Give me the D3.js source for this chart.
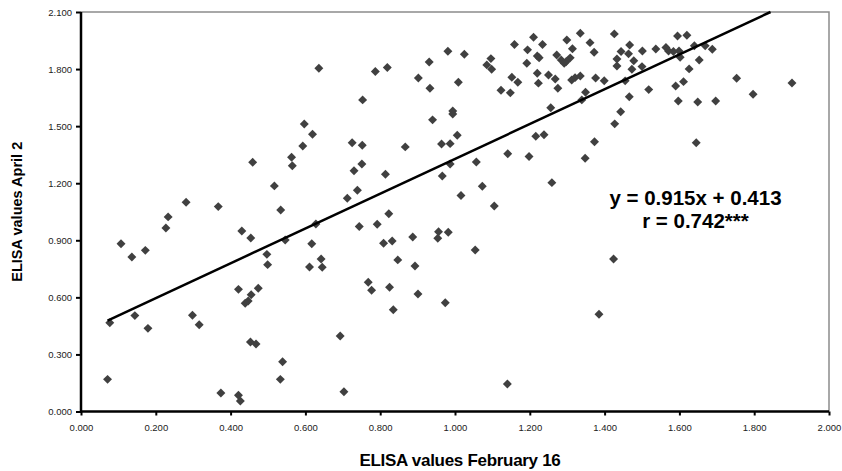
<!DOCTYPE html>
<html>
<head>
<meta charset="utf-8">
<script src="https://cdn.jsdelivr.net/npm/d3@7"></script>
<style>
  body { margin: 0; background: #fff; }
  text { font-family: "Liberation Sans", Arial, sans-serif; }
</style>
</head>
<body>
<div id="chart"></div>
<script>
// ELISA readings, one entry per sample
const elisaFeb16 = [
  0.071, 0.077, 0.144, 0.179, 0.298, 0.316, 0.374, 0.421, 0.426, 0.453,
  0.468, 0.539, 0.533, 0.439, 0.447, 0.455, 0.421, 0.474, 0.107, 0.136,
  0.172, 0.227, 0.233, 0.281, 0.367, 0.430, 0.454, 0.459, 0.517, 0.534,
  0.563, 0.565, 0.546, 0.497, 0.499, 0.617, 0.628, 0.611, 0.642, 0.645,
  0.636, 0.597, 0.619, 0.593, 1.335, 1.210, 1.299, 1.361, 1.159, 1.234,
  1.194, 1.314, 1.372, 0.981, 1.025, 0.931, 1.220, 1.225, 1.272, 1.284,
  1.297, 1.308, 1.292, 1.096, 1.085, 1.098, 1.192, 1.220, 1.250, 1.268,
  1.223, 1.275, 1.312, 1.321, 1.335, 1.376, 1.399, 1.349, 1.339, 1.256,
  1.373, 1.152, 1.168, 1.123, 1.148, 0.787, 0.819, 0.902, 0.933, 1.009,
  0.753, 0.940, 0.994, 0.994, 1.006, 0.964, 0.987, 0.725, 0.752, 0.867,
  1.216, 1.238, 1.141, 1.198, 1.348, 1.057, 1.426, 1.595, 1.620, 1.467,
  1.444, 1.464, 1.501, 1.537, 1.564, 1.571, 1.584, 1.599, 1.602, 1.640,
  1.669, 1.688, 1.433, 1.433, 1.478, 1.473, 1.500, 1.653, 1.626, 1.455,
  1.611, 1.590, 1.753, 1.901, 1.518, 1.466, 1.797, 1.597, 1.649, 1.697,
  1.443, 1.427, 1.645, 0.751, 0.730, 0.814, 0.987, 0.966, 1.073, 1.259,
  0.739, 0.712, 1.016, 1.105, 0.823, 0.744, 0.792, 0.809, 0.832, 0.887,
  0.956, 0.954, 0.982, 1.054, 0.847, 0.893, 0.768, 0.777, 0.825, 0.901,
  0.974, 0.835, 0.693, 0.703, 1.140, 1.385, 1.424
];
const elisaApr2 = [
  0.169, 0.467, 0.504, 0.437, 0.506, 0.456, 0.097, 0.085, 0.055, 0.365,
  0.355, 0.262, 0.169, 0.569, 0.581, 0.614, 0.642, 0.648, 0.882, 0.812,
  0.847, 0.965, 1.023, 1.100, 1.077, 0.949, 0.912, 1.310, 1.186, 1.059,
  1.336, 1.292, 0.902, 0.826, 0.772, 0.882, 0.986, 0.760, 0.802, 0.758,
  1.804, 1.511, 1.457, 1.396, 1.988, 1.967, 1.953, 1.939, 1.929, 1.929,
  1.901, 1.907, 1.888, 1.894, 1.878, 1.837, 1.869, 1.860, 1.874, 1.848,
  1.838, 1.859, 1.831, 1.855, 1.822, 1.799, 1.831, 1.778, 1.769, 1.748,
  1.726, 1.699, 1.743, 1.755, 1.764, 1.753, 1.739, 1.678, 1.638, 1.597,
  1.418, 1.757, 1.731, 1.689, 1.675, 1.787, 1.808, 1.753, 1.699, 1.731,
  1.638, 1.533, 1.580, 1.564, 1.452, 1.406, 1.408, 1.413, 1.400, 1.391,
  1.447, 1.455, 1.355, 1.340, 1.331, 1.312, 1.985, 1.974, 1.978, 1.927,
  1.892, 1.880, 1.895, 1.906, 1.913, 1.895, 1.892, 1.895, 1.862, 1.923,
  1.922, 1.904, 1.853, 1.816, 1.844, 1.799, 1.813, 1.848, 1.801, 1.738,
  1.734, 1.711, 1.752, 1.727, 1.692, 1.655, 1.668, 1.632, 1.627, 1.632,
  1.576, 1.512, 1.413, 1.301, 1.266, 1.247, 1.301, 1.238, 1.184, 1.203,
  1.163, 1.121, 1.135, 1.080, 1.040, 0.972, 0.984, 0.884, 0.896, 0.917,
  0.945, 0.911, 0.942, 0.849, 0.797, 0.765, 0.679, 0.637, 0.653, 0.618,
  0.572, 0.535, 0.397, 0.104, 0.145, 0.511, 0.802
];

// linear fit shown on the chart
const fitSlope = 0.915;
const fitIntercept = 0.413;
const fitLabel = ["y = 0.915x + 0.413", "r = 0.742***"];

const xTicks = [0, 0.2, 0.4, 0.6, 0.8, 1.0, 1.2, 1.4, 1.6, 1.8, 2.0];
const yTicks = [0, 0.3, 0.6, 0.9, 1.2, 1.5, 1.8, 2.1];

const margin = { top: 12, right: 13, bottom: 59.5, left: 81 };
const width = 842;
const height = 471;
const plotW = width - margin.left - margin.right;
const plotH = height - margin.top - margin.bottom;

const svg = d3.select('#chart')
  .append('svg')
  .attr('width', width)
  .attr('height', height);

const g = svg.append('g')
  .attr('transform', `translate(${margin.left},${margin.top})`);

const x = d3.scaleLinear().domain([0, 2]).range([0, plotW]);
const y = d3.scaleLinear().domain([0, 2.1]).range([plotH, 0]);

// plot frame: grey top/right, black axes
g.append('path')
  .attr('d', `M0,0H${plotW}V${plotH}`)
  .attr('fill', 'none')
  .attr('stroke', '#8c8c8c')
  .attr('stroke-width', 1.5);

const fmt = d3.format('.3f');

const xAxis = g.append('g')
  .attr('transform', `translate(0,${plotH})`)
  .call(d3.axisBottom(x).tickValues(xTicks).tickFormat(fmt).tickSize(4).tickPadding(9));

const yAxis = g.append('g')
  .call(d3.axisLeft(y).tickValues(yTicks).tickFormat(fmt).tickSize(5).tickPadding(4));

[xAxis, yAxis].forEach(ax => {
  ax.select('.domain').attr('stroke', '#000').attr('stroke-width', 2.5);
  ax.selectAll('.tick line').attr('stroke', '#000').attr('stroke-width', 2);
  ax.selectAll('.tick text')
    .attr('fill', '#222')
    .style('font-size', '9.5px')
    .style('font-family', '"Liberation Sans", Arial, sans-serif');
});
xAxis.select('.domain').attr('d', `M0,0H${plotW}`);
yAxis.select('.domain').attr('d', `M0,${plotH}V0`);

// points
const pts = elisaFeb16.map((v, i) => ({ feb: v, apr: elisaApr2[i] }));
const diamond = d3.symbol().type(d3.symbolSquare).size(40);

g.selectAll('.pt')
  .data(pts)
  .enter().append('path')
  .attr('class', 'pt')
  .attr('d', diamond)
  .attr('transform', d => `translate(${x(d.feb)},${y(d.apr)}) rotate(45)`)
  .attr('fill', '#404040');

// regression line, clipped to the top of the plot
const xStart = d3.min(elisaFeb16);
const xEnd = (2.1 - fitIntercept) / fitSlope;
g.append('line')
  .attr('x1', x(xStart))
  .attr('y1', y(fitSlope * xStart + fitIntercept))
  .attr('x2', x(xEnd))
  .attr('y2', y(fitSlope * xEnd + fitIntercept))
  .attr('stroke', '#000')
  .attr('stroke-width', 2.5);

// equation
g.append('text')
  .attr('x', x(1.643))
  .attr('y', y(1.083))
  .attr('text-anchor', 'middle')
  .style('font-size', '20.5px')
  .style('font-weight', 'bold')
  .text(fitLabel[0]);

g.append('text')
  .attr('x', x(1.643))
  .attr('y', y(0.963))
  .attr('text-anchor', 'middle')
  .style('font-size', '20.5px')
  .style('font-weight', 'bold')
  .text(fitLabel[1]);

// axis titles
svg.append('text')
  .attr('x', 460)
  .attr('y', 466)
  .attr('text-anchor', 'middle')
  .style('font-size', '17px')
  .style('font-weight', 'bold')
  .style('letter-spacing', '-0.3px')
  .text('ELISA values February 16');

svg.append('text')
  .attr('transform', 'rotate(-90)')
  .attr('x', -(margin.top + plotH / 2))
  .attr('y', 22)
  .attr('text-anchor', 'middle')
  .style('font-size', '14.5px')
  .style('font-weight', 'bold')
  .text('ELISA values April 2');
</script>
</body>
</html>
